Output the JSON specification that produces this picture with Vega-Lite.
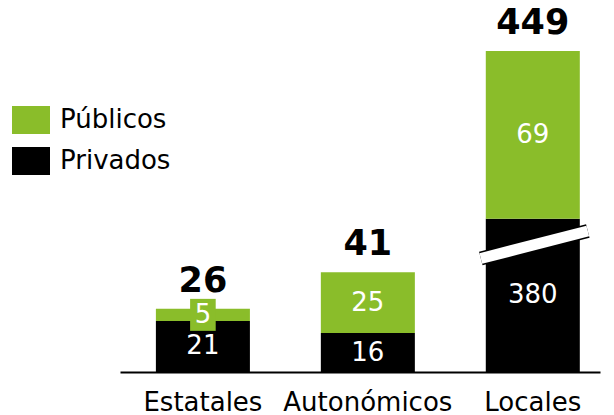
{
  "$schema": "https://vega.github.io/schema/vega-lite/v6.json",
  "width": 480,
  "height": 372,
  "autosize": "none",
  "padding": {"left": 120, "top": 0, "right": 14, "bottom": 43},
  "config": {"view": {"stroke": null}, "font": "DejaVu Sans"},
  "data": {"values": [
    {"cat": "Estatales", "serie": "Privados", "value": 21},
    {"cat": "Estatales", "serie": "Públicos", "value": 5},
    {"cat": "Autonómicos", "serie": "Privados", "value": 16},
    {"cat": "Autonómicos", "serie": "Públicos", "value": 25},
    {"cat": "Locales", "serie": "Privados", "value": 380},
    {"cat": "Locales", "serie": "Públicos", "value": 69}
  ]},
  "transform": [
    {"calculate": "datum.value > 100 ? 63 : datum.value", "as": "drawn"},
    {"calculate": "datum.serie == 'Privados' ? 1 : 2", "as": "orden"},
    {"stack": "drawn", "groupby": ["cat"], "sort": [{"field": "orden", "order": "ascending"}], "as": ["y0", "y1"]},
    {"calculate": "(datum.y0 + datum.y1) / 2", "as": "mid"}
  ],
  "layer": [
    {
      "mark": {"type": "bar"},
      "encoding": {
        "x": {"field": "cat", "type": "nominal", "sort": ["Estatales", "Autonómicos", "Locales"],
              "scale": {"paddingInner": 0.43, "paddingOuter": 0.17, "align": 0.64},
              "axis": {"title": null, "labelFontSize": 26, "labelFont": "DejaVu Sans", "labelColor": "black", "ticks": false, "domainColor": "black", "domainWidth": 2, "labelPadding": 17, "labelAngle": 0}},
        "y": {"field": "y1", "type": "quantitative", "scale": {"domain": [0, 153], "nice": false}, "axis": null},
        "y2": {"field": "y0"},
        "color": {"field": "serie", "type": "nominal",
                  "scale": {"domain": ["Públicos", "Privados"], "range": ["#8abd2a", "#000000"]},
                  "legend": {"orient": "none", "legendX": -108, "legendY": 101, "title": null,
                             "symbolType": "M-1,-0.737H1V0.737H-1Z", "symbolSize": 1444,
                             "labelFontSize": 26, "labelFont": "DejaVu Sans", "labelColor": "black",
                             "rowPadding": 7, "labelOffset": 10, "padding": 0, "symbolStrokeWidth": 0, "symbolOpacity": 1}}
      }
    },
    {
      "transform": [{"filter": "datum.cat == 'Locales' && datum.serie == 'Privados'"}],
      "mark": {"type": "rule", "color": "black", "strokeWidth": 14},
      "encoding": {
        "x": {"field": "cat", "type": "nominal", "sort": ["Estatales", "Autonómicos", "Locales"], "bandPosition": -0.053},
        "x2": {"field": "cat", "bandPosition": 1.085},
        "y": {"datum": 46.7, "type": "quantitative"},
        "y2": {"datum": 58}
      }
    },
    {
      "transform": [{"filter": "datum.cat == 'Locales' && datum.serie == 'Privados'"}],
      "mark": {"type": "rule", "color": "white", "strokeWidth": 11},
      "encoding": {
        "x": {"field": "cat", "type": "nominal", "sort": ["Estatales", "Autonómicos", "Locales"], "bandPosition": -0.053},
        "x2": {"field": "cat", "bandPosition": 1.085},
        "y": {"datum": 46.7, "type": "quantitative"},
        "y2": {"datum": 58}
      }
    },
    {
      "transform": [{"filter": "datum.y1 - datum.y0 < 8"}],
      "mark": {"type": "point", "filled": true, "opacity": 1, "shape": "M-0.8,-1H0.8V1H-0.8Z", "size": 1024, "color": "#8abd2a", "strokeWidth": 0},
      "encoding": {
        "x": {"field": "cat", "type": "nominal", "sort": ["Estatales", "Autonómicos", "Locales"]},
        "y": {"field": "mid", "type": "quantitative"}
      }
    },
    {
      "mark": {"type": "text", "color": "white", "fontSize": 26, "font": "DejaVu Sans", "baseline": "middle", "align": "center"},
      "encoding": {
        "x": {"field": "cat", "type": "nominal", "sort": ["Estatales", "Autonómicos", "Locales"]},
        "y": {"field": "mid", "type": "quantitative"},
        "text": {"field": "value", "type": "quantitative"}
      }
    },
    {
      "transform": [{"aggregate": [{"op": "sum", "field": "value", "as": "total"}, {"op": "max", "field": "y1", "as": "top"}], "groupby": ["cat"]}],
      "mark": {"type": "text", "color": "black", "fontSize": 35, "fontWeight": "bold", "font": "DejaVu Sans", "baseline": "alphabetic", "align": "center", "dy": -17},
      "encoding": {
        "x": {"field": "cat", "type": "nominal", "sort": ["Estatales", "Autonómicos", "Locales"]},
        "y": {"field": "top", "type": "quantitative"},
        "text": {"field": "total", "type": "quantitative"}
      }
    }
  ]
}
